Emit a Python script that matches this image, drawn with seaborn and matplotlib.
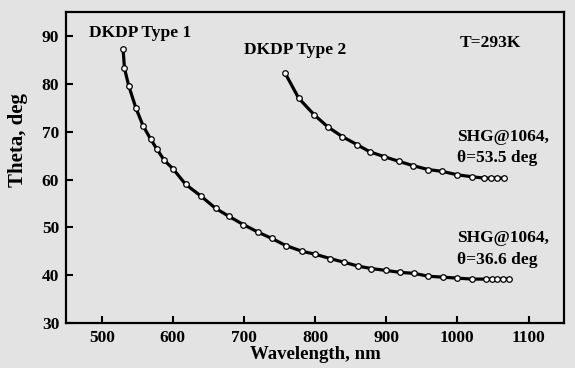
import pandas as pd
import matplotlib
matplotlib.use("Agg")
import matplotlib.pyplot as plt
import seaborn as sns

# DKDP type 1 phase-matching curve
wl_type1 = [530, 532, 538, 548, 558, 569, 578, 588, 600, 618, 640, 660, 679, 699, 720,
            739, 759, 782, 800, 821, 841, 861, 879, 900, 920, 939, 959, 980, 1000,
            1021, 1040, 1048, 1056, 1064, 1072]
theta_type1 = [87.4, 83.3, 79.6, 75.0, 71.3, 68.4, 66.3, 64.0, 62.3, 59.0, 56.5, 54.0, 52.3,
               50.6, 49.0, 47.7, 46.2, 45.0, 44.4, 43.5, 42.7, 41.9, 41.4, 41.0, 40.6, 40.4,
               39.8, 39.6, 39.4, 39.2, 39.2, 39.2, 39.2, 39.2, 39.2]

# DKDP type 2
wl_type2 = [758, 777, 799, 818, 838, 859, 877, 897, 918, 938, 959, 979, 1000, 1020,
            1038, 1047, 1056, 1065]
theta_type2 = [82.2, 77.0, 73.5, 71.0, 69.0, 67.3, 65.8, 64.8, 63.8, 62.9, 62.1, 61.7,
               61.0, 60.6, 60.3, 60.3, 60.3, 60.3]

x_ticks = [500, 600, 700, 800, 900, 1000, 1100]
y_ticks = [30, 40, 50, 60, 70, 80, 90]

df1 = pd.DataFrame({"wl": wl_type1, "theta": theta_type1})
df2 = pd.DataFrame({"wl": wl_type2, "theta": theta_type2})

sns.set_style("ticks")
plt.rcParams["font.family"] = ["Liberation Serif", "DejaVu Serif"]
plt.rcParams["text.color"] = "black"
plt.rcParams["axes.labelcolor"] = "black"
bg = "#e3e3e3"

fig = plt.figure(figsize=(5.75, 3.68), dpi=100, facecolor=bg)
ax = fig.add_axes([0.115, 0.122, 0.866, 0.845], facecolor=bg)

for d in (df1, df2):
    sns.lineplot(data=d, x="wl", y="theta", ax=ax, color="black", linewidth=2.3,
                 marker="o", markersize=4, markerfacecolor="white",
                 markeredgecolor="black", markeredgewidth=0.9, sort=False)

ax.set_xlim(450, 1150)
ax.set_ylim(30, 95)
ax.set_xticks(x_ticks)
ax.set_yticks(y_ticks)
ax.tick_params(direction="in", length=5, width=1.5, labelsize=12.5, colors="black", pad=5)
for lab in ax.get_xticklabels() + ax.get_yticklabels():
    lab.set_fontweight("bold")
for s in ax.spines.values():
    s.set_linewidth(1.6)
    s.set_color("black")

ax.set_xlabel("Wavelength, nm", fontsize=13.5, fontweight="bold", labelpad=0)
ax.set_ylabel("Theta, deg", fontsize=15, fontweight="bold")
ax.yaxis.set_label_coords(-0.076, 0.59)

fs = 12.5
ax.text(554, 90.6, "DKDP Type 1", fontsize=fs, fontweight="bold", ha="center", va="center")
ax.text(772, 87.1, "DKDP Type 2", fontsize=fs, fontweight="bold", ha="center", va="center")
ax.text(1046, 88.5, "T=293K", fontsize=fs, fontweight="bold", ha="center", va="center")
ax.text(1000, 68.9, "SHG@1064,", fontsize=fs, fontweight="bold", ha="left", va="center")
ax.text(1000, 64.5, "θ=53.5 deg", fontsize=fs, fontweight="bold", ha="left", va="center")
ax.text(1000, 47.8, "SHG@1064,", fontsize=fs, fontweight="bold", ha="left", va="center")
ax.text(1000, 43.2, "θ=36.6 deg", fontsize=fs, fontweight="bold", ha="left", va="center")

fig.savefig("out.png", dpi=100, facecolor=bg)
